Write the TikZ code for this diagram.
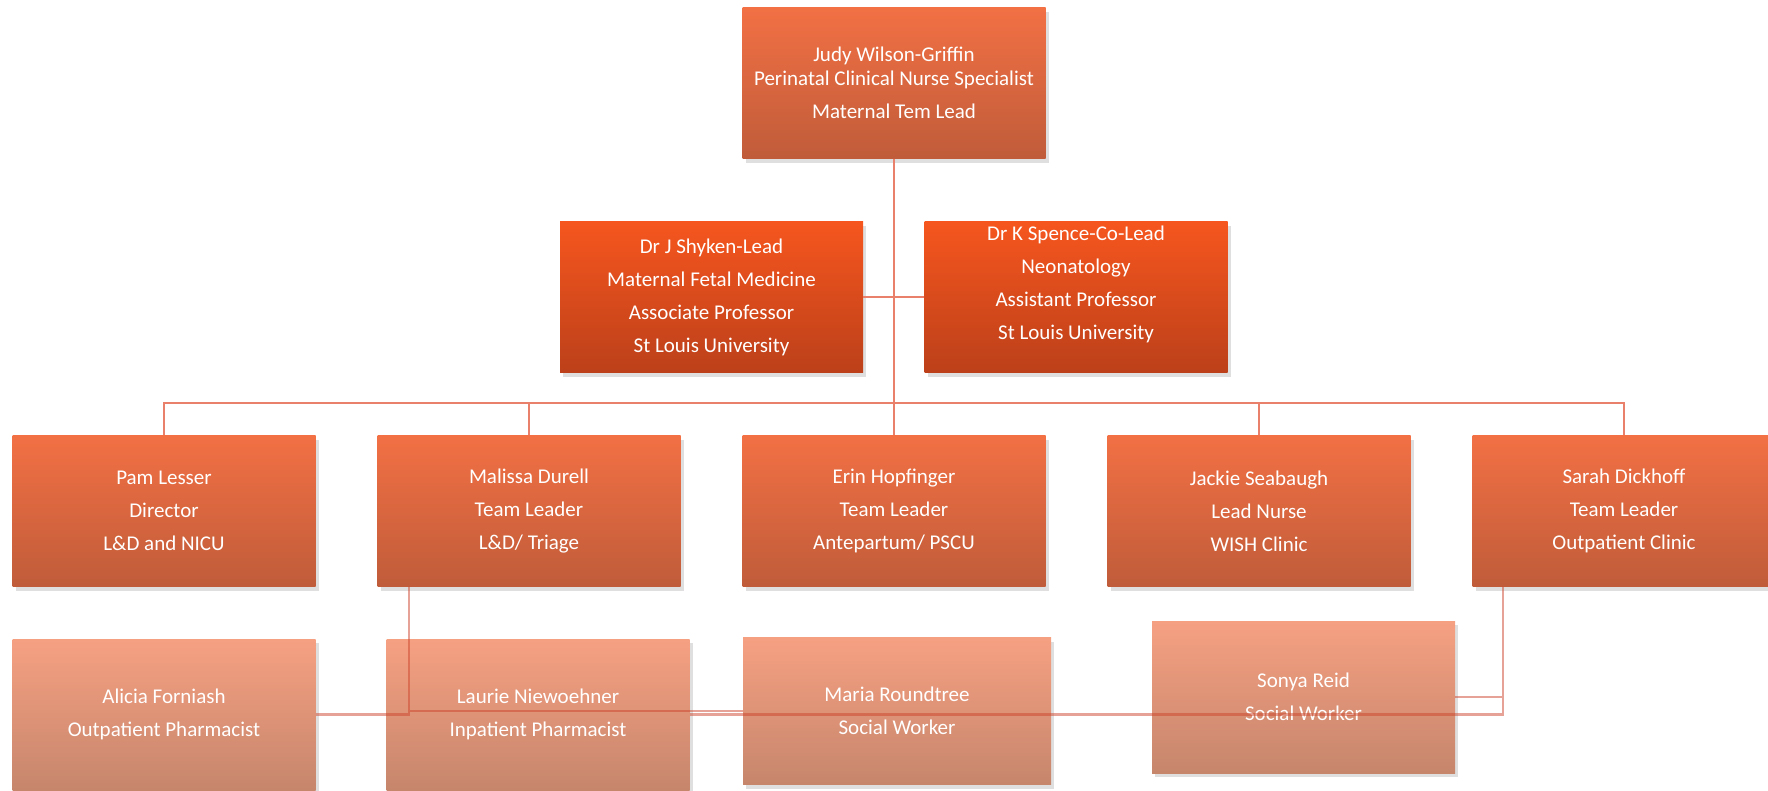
\documentclass[tikz,border=0pt]{standalone}
\usepackage{fontspec}
\setmainfont{Carlito}
\usetikzlibrary{shadows}
\definecolor{leadTop}{RGB}{242,112,68}
\definecolor{leadBot}{RGB}{192,92,58}
\definecolor{docTop}{RGB}{246,86,30}
\definecolor{docBot}{RGB}{188,64,26}
\definecolor{asstTop}{RGB}{246,160,130}
\definecolor{asstBot}{RGB}{198,134,108}
\definecolor{linkLine}{RGB}{232,128,108}
\definecolor{asstLine}{RGB}{205,70,45}

\begin{document}
\begin{tikzpicture}[x=1pt,y=-1pt]
    \tikzstyle{every node}=[font=\fontsize{21}{33}\selectfont, text=white]
    \tikzstyle{member}=[rectangle, inner sep=0pt, minimum width=303pt, minimum height=151pt, align=center,
        drop shadow={opacity=0.25, shadow xshift=3pt, shadow yshift=-4pt}]
    \tikzstyle{lead}=[member, top color=leadTop, bottom color=leadBot]
    \tikzstyle{doctor}=[member, top color=docTop, bottom color=docBot]
    \tikzstyle{assistant}=[member, top color=asstTop, bottom color=asstBot]
    \tikzstyle{link}=[draw=linkLine, line width=2.2pt]
    \tikzstyle{asst}=[draw=asstLine, line width=2.2pt, draw opacity=0.5]

    \useasboundingbox (0,0) rectangle (1768,790);

    \node[lead, font=\fontsize{21}{24}\selectfont] (judy) at (894,83)
        {Judy Wilson-Griffin\\Perinatal Clinical Nurse Specialist\\[8.5pt]Maternal Tem Lead};

    \node[doctor] (shyken) at (711.5,297)
        {Dr J Shyken-Lead\\Maternal Fetal Medicine\\Associate Professor\\St Louis University};
    \node[doctor, text depth=29pt] (spence) at (1076,297)
        {Dr K Spence-Co-Lead\\Neonatology\\Assistant Professor\\St Louis University};

    \node[lead] (pam) at (164,511) {Pam Lesser\\Director\\L\&D and NICU};
    \node[lead] (malissa) at (529,511) {Malissa Durell\\Team Leader\\L\&D/ Triage};
    \node[lead] (erin) at (894,511) {Erin Hopfinger\\Team Leader\\Antepartum/ PSCU};
    \node[lead] (jackie) at (1259,511) {Jackie Seabaugh\\Lead Nurse\\WISH Clinic};
    \node[lead] (sarah) at (1624,511) {Sarah Dickhoff\\Team Leader\\Outpatient Clinic};

    \node[assistant] (alicia) at (164,714.5) {Alicia Forniash\\Outpatient Pharmacist};
    \node[assistant] (laurie) at (538,714.5) {Laurie Niewoehner\\Inpatient Pharmacist};
    \node[assistant, minimum width=308pt, minimum height=147pt] (maria) at (897,711) {Maria Roundtree\\Social Worker};
    \node[assistant, minimum height=152pt] (sonya) at (1303.5,697) {Sonya Reid\\Social Worker};

    \coordinate (bus) at (894,403);
    \draw[link] (judy) -- (bus);
    \draw[link] (shyken) -- (spence);
    \foreach \n in {pam,malissa,erin,jackie,sarah}
        \draw[link] (bus) -| (\n);

    \draw[asst] (alicia.east) -| ([xshift=-120pt]malissa.south) |- (maria.west);
    \draw[asst] (laurie.east) -| ([xshift=-121pt]sarah.south) |- (sonya.east);
\end{tikzpicture}
\end{document}
